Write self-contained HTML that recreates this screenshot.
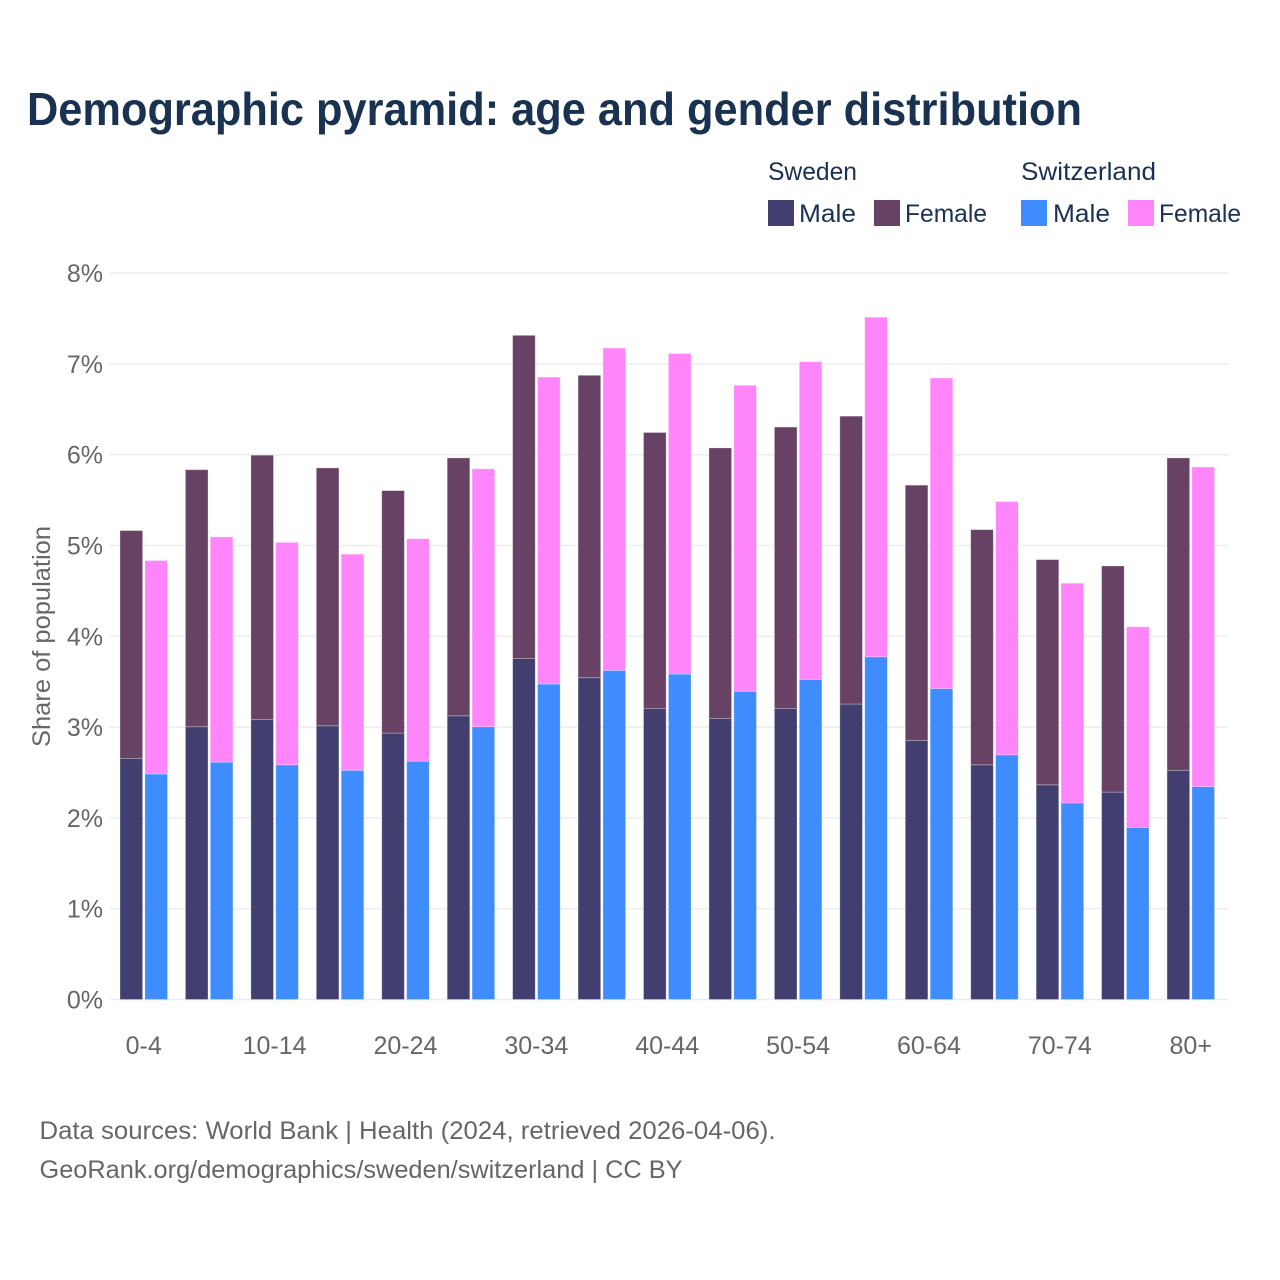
<!DOCTYPE html>
<html lang="en">
<head>
<meta charset="utf-8">
<title>Demographic pyramid</title>
<style>
html,body{margin:0;padding:0;background:#fff;}
svg{display:block;}
text{font-family:"Liberation Sans",sans-serif;}
</style>
</head>
<body>
<svg id="chart" xmlns="http://www.w3.org/2000/svg" width="1280" height="1280" viewBox="0 0 1280 1280">
  <rect x="0" y="0" width="1280" height="1280" fill="#ffffff"/>
  <text x="27" y="125" font-size="46" font-weight="700" fill="#193251" textLength="1055" lengthAdjust="spacingAndGlyphs">Demographic pyramid: age and gender distribution</text>

  <g font-size="25" fill="#1a3055">
    <text x="768" y="180" textLength="89" lengthAdjust="spacingAndGlyphs">Sweden</text>
    <text x="1021" y="180" textLength="135" lengthAdjust="spacingAndGlyphs">Switzerland</text>
    <rect x="768" y="200" width="26" height="26" fill="#423f70"/>
    <text x="799" y="222" textLength="57" lengthAdjust="spacingAndGlyphs">Male</text>
    <rect x="874" y="200" width="26" height="26" fill="#674264"/>
    <text x="905" y="222" textLength="82" lengthAdjust="spacingAndGlyphs">Female</text>
    <rect x="1021" y="200" width="26" height="26" fill="#3f8cff"/>
    <text x="1053" y="222" textLength="57" lengthAdjust="spacingAndGlyphs">Male</text>
    <rect x="1128" y="200" width="26" height="26" fill="#ff85fb"/>
    <text x="1159" y="222" textLength="82" lengthAdjust="spacingAndGlyphs">Female</text>
  </g>

  <g id="grid"></g>
  <g id="y-axis"></g>
  <g id="bars"></g>
  <g id="x-axis"></g>

  <text transform="translate(50,636.5) rotate(-90)" text-anchor="middle" font-size="25" fill="#666666" textLength="221" lengthAdjust="spacingAndGlyphs">Share of population</text>

  <text x="39.5" y="1139" font-size="25" fill="#666666" textLength="736" lengthAdjust="spacingAndGlyphs">Data sources: World Bank | Health (2024, retrieved 2026-04-06).</text>
  <text x="39.5" y="1178" font-size="25" fill="#666666" textLength="643" lengthAdjust="spacingAndGlyphs">GeoRank.org/demographics/sweden/switzerland | CC BY</text>
</svg>
<script>
const categories = ["0-4","5-9","10-14","15-19","20-24","25-29","30-34","35-39","40-44","45-49","50-54","55-59","60-64","65-69","70-74","75-79","80+"];
const swedenMale = [2.65,3.00,3.08,3.01,2.93,3.12,3.75,3.54,3.20,3.09,3.20,3.25,2.85,2.58,2.36,2.28,2.52];
const swedenFemale = [2.51,2.83,2.91,2.84,2.67,2.84,3.56,3.33,3.04,2.98,3.10,3.17,2.81,2.59,2.48,2.49,3.44];
const switzerlandMale = [2.48,2.61,2.58,2.52,2.62,3.00,3.47,3.62,3.58,3.39,3.52,3.77,3.42,2.69,2.16,1.89,2.34];
const switzerlandFemale = [2.35,2.48,2.45,2.38,2.45,2.84,3.38,3.55,3.53,3.37,3.50,3.74,3.42,2.79,2.42,2.21,3.52];
const yTicks = [0,1,2,3,4,5,6,7,8];

const NS = "http://www.w3.org/2000/svg";
const yScale = v => 999.5 - v * 90.8;
const barEdge = v => v > 0 ? yScale(v) - 0.4 : yScale(0);
const xScale = i => 120 + i * 65.44;
const BAR_W = 22.6;
const BAR_GAP = 24.9;

function make(tag, attrs, parent) {
  const el = document.createElementNS(NS, tag);
  for (const k in attrs) el.setAttribute(k, attrs[k]);
  parent.appendChild(el);
  return el;
}

const grid = document.getElementById("grid");
const yAxis = document.getElementById("y-axis");
yTicks.forEach(t => {
  const line = make("line", {x1: 110, x2: 1228, y1: yScale(t), y2: yScale(t), stroke: t === 0 ? "#ebebf5" : "#eeeef0", "stroke-width": 1.6}, grid);
  
  
  const label = make("text", {x: 103, y: yScale(t) + 9, "text-anchor": "end", "font-size": 25, fill: "#666666"}, yAxis);
  label.textContent = t + "%";
  
  
});

const barsG = document.getElementById("bars");
function drawBar(x, base, value, fill, name) {
  const top = barEdge(base + value);
  const bottom = barEdge(base);
  const r = make("rect", {x: x, y: top, width: BAR_W, height: bottom - top, fill: fill, stroke: "#ffffff", "stroke-opacity": 0.35, "stroke-width": 0.8}, barsG);
  
  
}
categories.forEach((c, i) => {
  const x0 = xScale(i);
  const x1 = x0 + BAR_GAP;
  drawBar(x0, 0, swedenMale[i], "#423f70", 'bar-sweden-male-' + c);
  drawBar(x0, swedenMale[i], swedenFemale[i], "#674264", 'bar-sweden-female-' + c);
  drawBar(x1, 0, switzerlandMale[i], "#3f8cff", 'bar-switzerland-male-' + c);
  drawBar(x1, switzerlandMale[i], switzerlandFemale[i], "#ff85fb", 'bar-switzerland-female-' + c);
});

const xAxis = document.getElementById("x-axis");
categories.forEach((c, i) => {
  if (i % 2 !== 0) return;
  const label = make("text", {x: xScale(i) + 23.7, y: 1054, "text-anchor": "middle", "font-size": 25, fill: "#666666"}, xAxis);
  label.textContent = c;
  
  
});
</script>
</body>
</html>
